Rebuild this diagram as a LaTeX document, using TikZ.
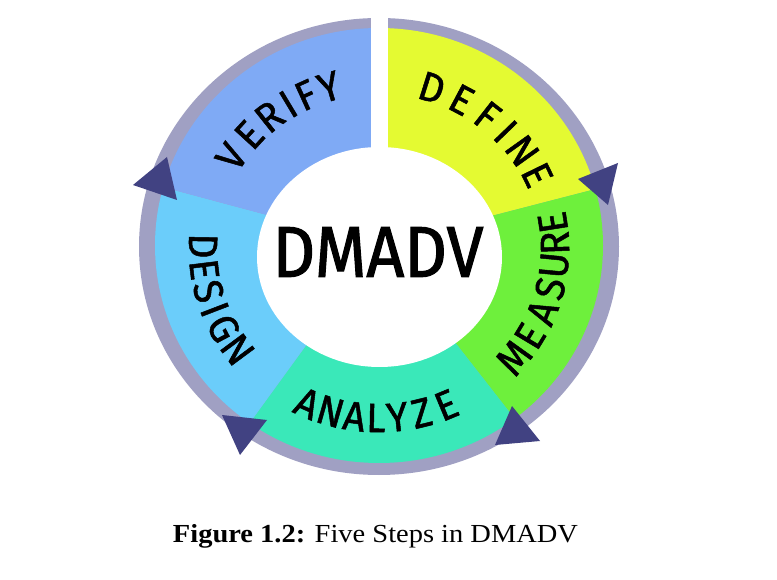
\documentclass[tikz,border=0pt]{standalone}
\usepackage{fontspec}
\usepackage{graphicx}
\setmainfont{Liberation Serif}
\newfontfamily\dinfont[FakeStretch=0.95,FakeBold=1.2]{Fira Sans}
\newfontfamily\dintitle[FakeStretch=0.92,FakeBold=1.5]{Fira Sans}
\definecolor{cVer}{HTML}{7FAAF5}
\definecolor{cDes}{HTML}{6BCDFA}
\definecolor{cAna}{HTML}{3AE8B9}
\definecolor{cMea}{HTML}{6EF03C}
\definecolor{cDef}{HTML}{E4FA32}
\definecolor{ringgrey}{HTML}{A0A0C3}
\definecolor{tri}{HTML}{414282}
\tikzset{
  ringletter/.style={inner sep=0, font=\dinfont\fontsize{41}{41}\selectfont},
  tristyle/.style={fill=tri}
}
\begin{document}
\begin{tikzpicture}[x=1pt,y=1pt]
\useasboundingbox (0,0) rectangle (777,579);
\fill[white] (0,0) rectangle (777,579);
\coordinate (S) at (379,334);
\coordinate (T) at (379,330);
% outer grey ring
\fill[ringgrey] (379,332.5) ellipse [x radius=240, y radius=228.5];
% coloured sectors
\begin{scope}
\clip (379,333.5) ellipse [x radius=224, y radius=217.5];
\fill[cDef] (S) -- ([shift={(90:400)}]S) -- ([shift={(52:400)}]S) -- ([shift={(14.5:400)}]S) -- cycle;
\fill[cMea] (S) -- ([shift={(14.5:400)}]S) -- ([shift={(-19:400)}]S) -- ([shift={(-52:400)}]S) -- cycle;
\fill[cAna] (S) -- ([shift={(-52:400)}]S) -- ([shift={(-89:400)}]S) -- ([shift={(-126:400)}]S) -- cycle;
\fill[cDes] (S) -- ([shift={(-126:400)}]S) -- ([shift={(-160:400)}]S) -- ([shift={(165:400)}]S) -- cycle;
\fill[cVer] (S) -- ([shift={(165:400)}]S) -- ([shift={(128:400)}]S) -- ([shift={(90:400)}]S) -- cycle;
\end{scope}
% top gap
\fill[white] (371,334) rectangle (388,572);
% inner white disc
\fill[white] (379.5,322) ellipse [x radius=122.5, y radius=110];
% arrowheads
\fill[tristyle] (578,400) -- (618,416) -- (608,374) -- cycle;
\fill[tristyle] (512,173) -- (495,134) -- (540,138) -- cycle;
\fill[tristyle] (222,164) -- (267,159) -- (240,124) -- cycle;
\fill[tristyle] (133,394) -- (167,422) -- (177,379) -- cycle;
% labels along the ring (tops outward)
\foreach \ch/\a [count=\i] in {D/72.5, E/62, F/52, I/44, N/35.5, E/26}
  \node[ringletter, rotate=\a-90] (def\i) at ([shift={(\a:176 and 169)}]T) {\ch};
\foreach \ch/\a [count=\i] in {V/147, E/137.5, R/128.5, I/121, F/114.5, Y/106.5}
  \node[ringletter, rotate=\a-90] (ver\i) at ([shift={(\a:176 and 169)}]T) {\ch};
% labels along the ring (tops inward)
\foreach \ch/\a [count=\i] in {M/-40, E/-31, A/-22, S/-13.5, U/-5.5, R/2, E/9}
  \node[ringletter, rotate=\a+90] (mea\i) at ([shift={(\a:176 and 169)}]T) {\ch};
\foreach \ch/\a [count=\i] in {A/-114, N/-106, A/-98, L/-91, Y/-84, Z/-76, E/-67.5}
  \node[ringletter, rotate=\a+90] (ana\i) at ([shift={(\a:176 and 169)}]T) {\ch};
\foreach \ch/\a [count=\i] in {D/179, E/187, S/194.5, I/201, G/208, N/216.5}
  \node[ringletter, rotate=\a+90] (des\i) at ([shift={(\a:176 and 169)}]T) {\ch};
% centre title
\node[inner sep=0] (title) at (378,327) {\dintitle\fontsize{72}{72}\selectfont DMADV};
% caption
\node[inner sep=0, anchor=base] (cap) at (375.5,37) {\resizebox{405pt}{\height}{\fontsize{26}{26}\selectfont\textbf{Figure 1.2:} Five Steps in DMADV}};
\end{tikzpicture}
\end{document}
